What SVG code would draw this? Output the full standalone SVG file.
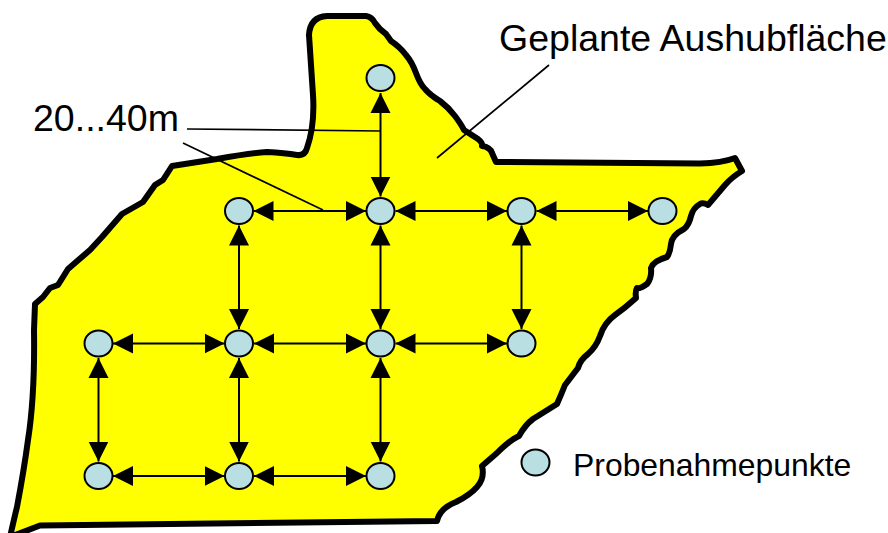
<svg xmlns="http://www.w3.org/2000/svg" width="888" height="533" viewBox="0 0 888 533">
<style>
.area{fill:#ffff00;stroke:#000;stroke-width:6;stroke-linejoin:round}
.pt{fill:#b9dfe3;stroke:#000;stroke-width:2}
.c{stroke:#000;stroke-width:2;fill:none;marker-start:url(#a);marker-end:url(#a)}
.l{stroke:#000;stroke-width:1.7;fill:none}
text{font-family:"Liberation Sans",Arial,sans-serif;fill:#000}
</style>
<defs>
<marker id="a" markerUnits="userSpaceOnUse" markerWidth="22" markerHeight="22" refX="20" refY="10.5" orient="auto-start-reverse"><path d="M0 0.5L20 10.5L0 20.5Z" fill="#000"/></marker>
</defs>
<g id="area">
<path class="area" d="M309 35Q310 17 327 16L366 16Q372 17 375 23Q379 29 386 34L391 41Q400 47 406 55Q412 62 416 73Q420 84 425 89Q430 95 440 101Q448 107 455 116Q461 124 464 130L478 139Q483 143 482 146Q490 147 492 153L496 162L700 163.500Q722 163 735 158L742 171Q732 177 725 185L708 205Q703 202 700 204Q693 208 691 216Q689 225 684 229Q672 235 671 244Q670 253 667 257Q653 261 651 268Q652 278 647 284Q640 289 637 288Q635 291 636 298Q625 308 615 315Q604 323 600 336Q596 347 588 354Q580 360 578 368L565 385Q561 395 557 404L533 419Q525 425 519 436Q510 440 497 453L482 466Q485 478 477 487Q470 495 456 502Q440 508 437 521L40 525.500L10 537Q15 515 17 507Q24 470 28 440Q35 395 34 330L35 304L43 297L50 288L58 285L68 269L90 250L102 237L122 214L143 202L155 185L163 180L172 166L217 159Q250 153 267 152Q285 153 297 155Q305 156 307 148Q315 125 313 95Z"/>
</g>
<g id="connectors">
<path class="c" d="M380.500 93L380.500 196.500"/>
<path class="c" d="M253.500 211L366 211"/>
<path class="c" d="M395.500 211L507 211"/>
<path class="c" d="M536.500 211L648 211"/>
<path class="c" d="M239 225.500L239 329"/>
<path class="c" d="M380.500 225.500L380.500 329"/>
<path class="c" d="M521.500 225.500L521.500 329"/>
<path class="c" d="M113 343.500L224.500 343.500"/>
<path class="c" d="M254 343.500L366 343.500"/>
<path class="c" d="M395.500 343.500L507 343.500"/>
<path class="c" d="M98.500 358L98.500 461.500"/>
<path class="c" d="M239 358L239 461.500"/>
<path class="c" d="M380.500 358L380.500 461.500"/>
<path class="c" d="M113 476L224.500 476"/>
<path class="c" d="M254 476L366 476"/>
<path class="l" d="M187 129L380 131"/>
<path class="l" d="M183 143L323 210"/>
<path class="l" d="M549 65L437 158"/>
</g>
<g id="n1"><ellipse class="pt" cx="380.500" cy="78" rx="14" ry="13"/></g>
<g id="n2"><ellipse class="pt" cx="239" cy="211" rx="14" ry="13"/></g>
<g id="n3"><ellipse class="pt" cx="380.500" cy="211" rx="14" ry="13"/></g>
<g id="n4"><ellipse class="pt" cx="521.500" cy="211" rx="14" ry="13"/></g>
<g id="n5"><ellipse class="pt" cx="662.500" cy="211" rx="14" ry="13"/></g>
<g id="n6"><ellipse class="pt" cx="98.500" cy="343.500" rx="14" ry="13"/></g>
<g id="n7"><ellipse class="pt" cx="239" cy="343.500" rx="14" ry="13"/></g>
<g id="n8"><ellipse class="pt" cx="380.500" cy="343.500" rx="14" ry="13"/></g>
<g id="n9"><ellipse class="pt" cx="521.500" cy="343.500" rx="14" ry="13"/></g>
<g id="n10"><ellipse class="pt" cx="98.500" cy="476" rx="14" ry="13"/></g>
<g id="n11"><ellipse class="pt" cx="239" cy="476" rx="14" ry="13"/></g>
<g id="n12"><ellipse class="pt" cx="380.500" cy="476" rx="14" ry="13"/></g>
<g id="legend"><ellipse class="pt" cx="535.500" cy="462.500" rx="14" ry="13"/><text x="573" y="476" font-size="31.900">Probenahmepunkte</text></g>
<g id="label-area"><text x="499" y="51" font-size="37.500">Geplante Aushubfläche</text></g>
<g id="label-distance"><text x="33" y="131" font-size="37.500">20...40m</text></g>
</svg>
